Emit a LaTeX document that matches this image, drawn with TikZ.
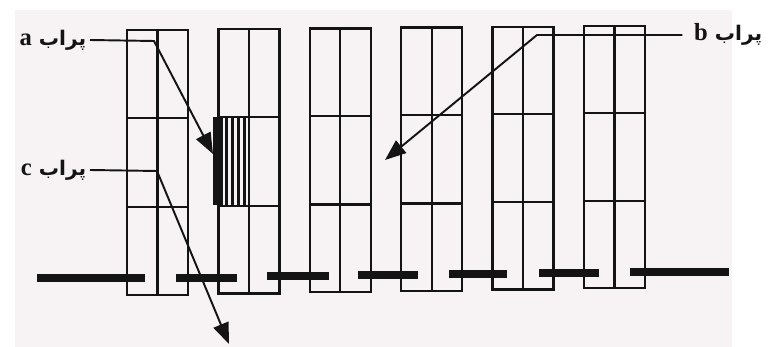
\documentclass[tikz,border=0pt]{standalone}
\usepackage{fontspec}
\setmainfont{Liberation Serif}
\newfontfamily\farsi[Script=Arabic, Scale=0.82]{DejaVu Sans}
\TeXXeTstate=1
\usetikzlibrary{arrows.meta, calc}
\definecolor{papel}{HTML}{F7F3F5}
\definecolor{tinta}{HTML}{141414}

\begin{document}
\begin{tikzpicture}[
  x=0.02cm, y=-0.02cm,
  celda/.style={draw=tinta, line width=1.3pt},
  barra/.style={draw=tinta, line width=4pt},
  rayado/.style={draw=tinta, line width=2.2pt},
  flecha/.style={-{Triangle[length=4.2mm, width=3.2mm]}, line width=1.1pt, tinta},
  etiqueta/.style={font=\fontsize{14}{16}\selectfont\bfseries, text=tinta,
                   inner xsep=2pt, inner ysep=1pt},
]

% --- Hoja ---
\useasboundingbox (0,0) rectangle (772,347);
\fill[white] (0,0) rectangle (772,347);
\fill[papel] (15,10) rectangle (732,347);

% --- Columnas (2 x 3 celdas) ---
\foreach \i in {0,...,5}{
  \pgfmathsetmacro{\xa}{127+91.4*\i}
  \pgfmathsetmacro{\xm}{\xa+30.5}
  \pgfmathsetmacro{\xb}{\xa+61}
  \pgfmathsetmacro{\ya}{30-0.8*\i}
  \pgfmathsetmacro{\yb}{118-1.0*\i}
  \pgfmathsetmacro{\yc}{207-1.2*\i}
  \pgfmathsetmacro{\yd}{295-1.4*\i}
  \draw[celda] (\xa,\ya) rectangle (\xb,\yd);
  \draw[celda] (\xm,\ya) -- (\xm,\yd);
  \draw[celda] (\xa,\yb) -- (\xb,\yb);
  \draw[celda] (\xa,\yc) -- (\xb,\yc);
}

% --- Celda rayada ---
\fill[tinta] (213,117) rectangle (223,205.5);
\foreach \x in {226.5,232.5,238.5,244.5}
  \draw[rayado] (\x,117) -- (\x,205.5);

% --- Barras ---
\foreach \a/\b/\y in {37/145/278, 176/237/278, 267/329/276, 358/418/275,
                      449/507/274, 539/599/273, 630/729/272}
  \draw[barra] (\a,\y) -- (\b,\y);

% --- Etiquetas ---
\node[etiqueta, anchor=east] (la) at (90,40)
  {\farsi\beginR پراب \beginL\rmfamily a\endL\endR};
\node[etiqueta, anchor=east] (lb) at (766,34)
  {\farsi\beginR پراب \beginL\rmfamily b\endL\endR};
\node[etiqueta, anchor=east] (lc) at (90,170)
  {\farsi\beginR پراب \beginL\rmfamily c\endL\endR};

\coordinate (ka) at (154,41);
\coordinate (pa) at (213,154);
\coordinate (kb) at (537,35);
\coordinate (pb) at (385,160);
\coordinate (kc) at (157,171);
\coordinate (pc) at (229,344);

% --- Flechas ---
\draw[flecha] ($(lb.west)+(-8,1)$) -- (kb) -- (pb);
\draw[flecha] (la.east) -- (ka) -- (pa);
\draw[flecha] (lc.east) -- (kc) -- (pc);

\end{tikzpicture}
\end{document}
